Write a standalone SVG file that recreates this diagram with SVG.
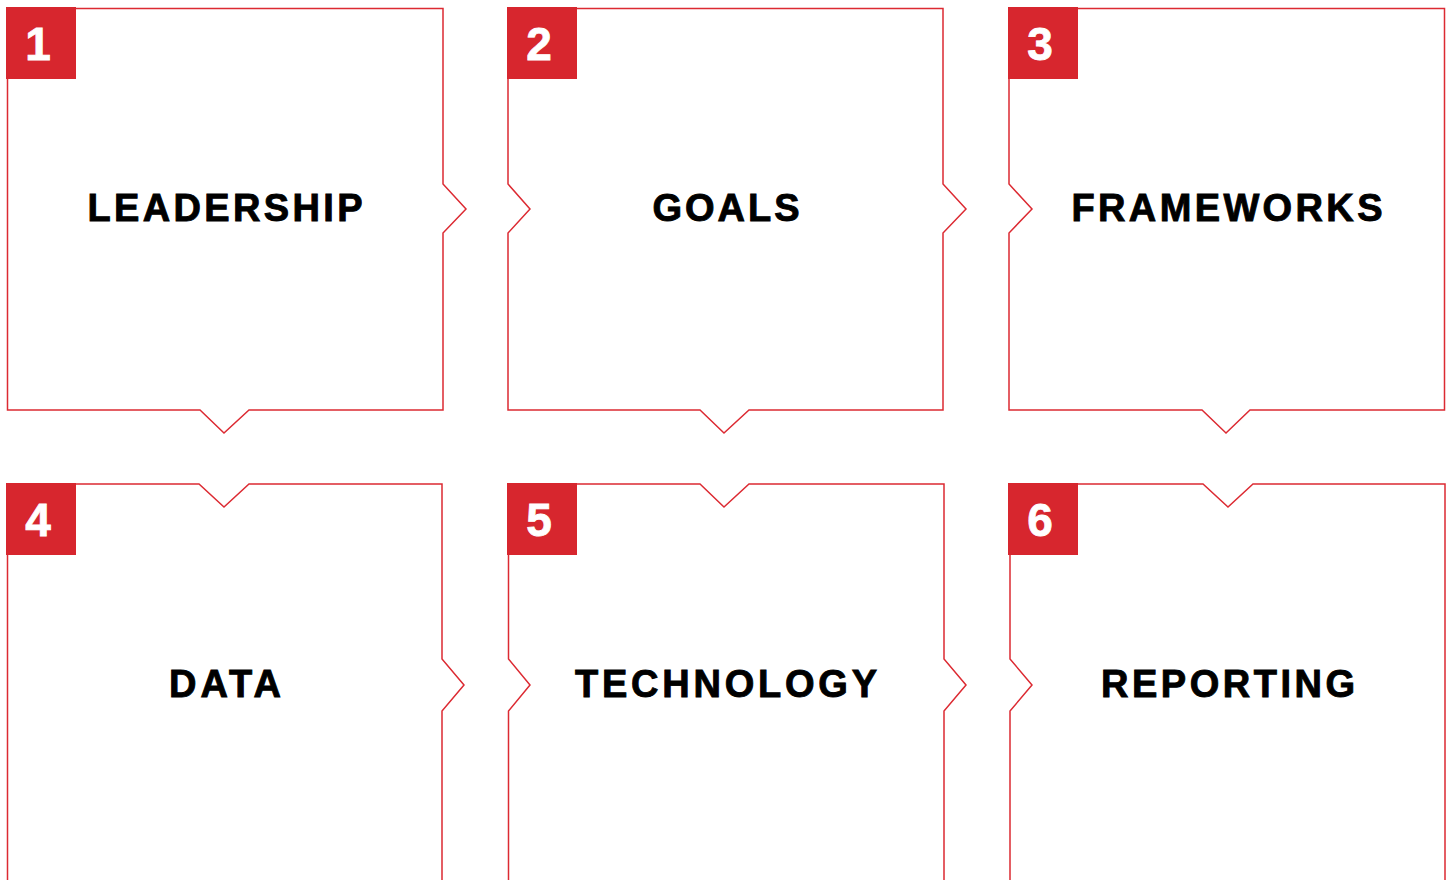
<svg xmlns="http://www.w3.org/2000/svg" width="1452" height="880" viewBox="0 0 1452 880">
<style>
.box{fill:#ffffff;stroke:#dc2a32;stroke-width:1.5;stroke-linejoin:miter}
.tag{fill:#d7262e}
.num{font-family:"Liberation Sans",Arial,sans-serif;font-weight:bold;font-size:46px;fill:#ffffff;stroke:#ffffff;stroke-width:0.8;text-anchor:middle}
.lbl{font-family:"Liberation Sans",Arial,sans-serif;font-weight:bold;font-size:38px;fill:#000000;stroke:#000000;stroke-width:0.9;text-anchor:middle}
</style>
<rect width="1452" height="880" fill="#ffffff"/>
<g id="node1">
<path class="box" d="M7.5,8.5 H443 V184 L466,209 L443,233 V410 H249 L224,433 L200,410 H7.5 Z"/>
<rect class="tag" x="6" y="7" width="70" height="72"/>
<text class="num" x="38" y="60">1</text>
<text class="lbl" x="225" y="221" textLength="275" lengthAdjust="spacing">LEADERSHIP</text>
</g>
<g id="node2">
<path class="box" d="M508,8.5 H943 V184 L966,209 L943,233 V410 H749 L724,433 L700,410 H508 V233 L530,209 L508,184 Z"/>
<rect class="tag" x="507" y="7" width="70" height="72"/>
<text class="num" x="539" y="60">2</text>
<text class="lbl" x="726" y="221" textLength="147" lengthAdjust="spacing">GOALS</text>
</g>
<g id="node3">
<path class="box" d="M1009,8.5 H1444.5 V410 H1250 L1226,433 L1202,410 H1009 V233 L1032,209 L1009,184 Z"/>
<rect class="tag" x="1008" y="7" width="70" height="72"/>
<text class="num" x="1040" y="60">3</text>
<text class="lbl" x="1227" y="221" textLength="311" lengthAdjust="spacing">FRAMEWORKS</text>
</g>
<g id="node4">
<path class="box" d="M7.5,890 V484 H199 L224,507 L249,484 H442 V659 L464,685 L442,711 V890"/>
<rect class="tag" x="6" y="483" width="70" height="72"/>
<text class="num" x="38" y="536">4</text>
<text class="lbl" x="225" y="697" textLength="112" lengthAdjust="spacing">DATA</text>
</g>
<g id="node5">
<path class="box" d="M508.5,890 V711 L530,685 L508.5,659 V484 H700 L724,507 L749,484 H944 V659 L966,685 L944,711 V890"/>
<rect class="tag" x="507" y="483" width="70" height="72"/>
<text class="num" x="539" y="536">5</text>
<text class="lbl" x="726" y="697" textLength="302" lengthAdjust="spacing">TECHNOLOGY</text>
</g>
<g id="node6">
<path class="box" d="M1010,890 V711 L1032,685 L1010,659 V484 H1203 L1228,507 L1253,484 H1445 V890"/>
<rect class="tag" x="1008" y="483" width="70" height="72"/>
<text class="num" x="1040" y="536">6</text>
<text class="lbl" x="1228" y="697" textLength="254" lengthAdjust="spacing">REPORTING</text>
</g>
<g id="connectors"></g>
</svg>
